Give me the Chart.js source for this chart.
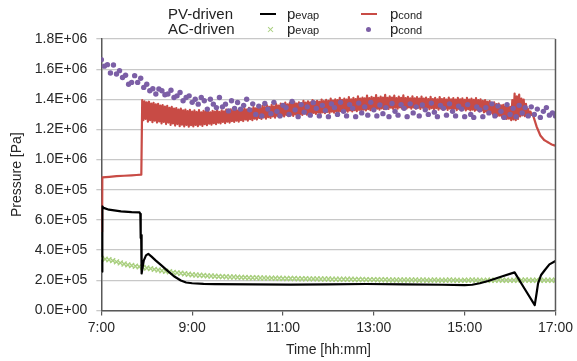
<!DOCTYPE html>
<html>
<head>
<meta charset="utf-8">
<script src="https://cdn.jsdelivr.net/npm/chart.js@4.4.1/dist/chart.umd.min.js"></script>
<style>
  html, body { margin: 0; padding: 0; background: #fff; }
  #wrap { position: relative; width: 577px; height: 361px; font-family: "Liberation Sans", Arial, sans-serif; color: #222; }
  canvas { position: absolute; left: 0; top: 0; }
  .lg { position: absolute; font-size: 15px; line-height: 15px; white-space: nowrap; }
  .sub { font-size: 11px; }
  .ln { position: absolute; height: 2px; }
  .xm { position: absolute; width: 7px; height: 1.2px; background: #a9cf7f; }
  .dot { position: absolute; width: 5px; height: 5px; border-radius: 50%; background: #7c5fa6; }
</style>
</head>
<body>
<div id="wrap">
  <canvas id="c" width="577" height="361"></canvas>
  <div class="lg" style="left:168px; top:6px;">PV-driven</div>
  <div class="lg" style="left:168px; top:21px;">AC-driven</div>
  <div class="ln" style="left:260px; top:13px; width:16px; background:#000;"></div>
  <div class="lg" style="left:287px; top:6px;">p<span class="sub">evap</span></div>
  <div class="ln" style="left:361px; top:13px; width:16px; background:#c84b45;"></div>
  <div class="lg" style="left:390px; top:6px;">p<span class="sub">cond</span></div>
  <div class="xm" style="left:267px; top:29px; transform:rotate(45deg);"></div>
  <div class="xm" style="left:267px; top:29px; transform:rotate(-45deg);"></div>
  <div class="lg" style="left:287px; top:21px;">p<span class="sub">evap</span></div>
  <div class="dot" style="left:366px; top:27px;"></div>
  <div class="lg" style="left:390px; top:21px;">p<span class="sub">cond</span></div>
</div>
<script>
// Time in minutes after 7:00; pressures in kPa
const KPA = 1000;
const xTickLabels = ['7:00', '9:00', '11:00', '13:00', '15:00', '17:00'];

// PV-driven p_evap (black line)
const pvEvapT = [1, 1.3, 3, 10, 26, 40, 50.5, 51.5, 52, 52.6, 53, 53.4, 56, 59, 62, 66, 72, 79, 88, 97, 105, 112, 120, 135, 150, 200, 250, 300, 350, 400, 450, 480, 490, 500, 511, 528, 546, 559, 572.6, 575, 577, 581, 586, 592, 600];
const pvEvapP = [257, 690, 680, 668, 657, 652, 650, 640, 480, 500, 420, 245, 330, 365, 375, 358, 330, 300, 260, 223, 198, 185, 180, 176, 174, 172, 171, 173, 175, 173, 170, 168, 170, 180, 195, 223, 252, 145, 35, 112, 179, 235, 268, 305, 328];

// PV-driven p_cond (red): start-up and shut-down segments
const pvCondHeadT = [1, 1.3, 20, 40, 52.8];
const pvCondHeadP = [520, 882, 890, 896, 900];
const pvCondTailT = [575, 580, 585, 590, 595, 600];
const pvCondTailP = [1220, 1160, 1130, 1115, 1100, 1092];
// PV-driven p_cond noisy signal: peaks and troughs, every 3 min from 54 to 570
// (each peak is followed by the trough half a step later)
const pvCondBandStart = 54, pvCondBandStep = 3;
const pvCondPeakP = [
  1395, 1386, 1380, 1384, 1372, 1376, 1366, 1370, 1358, 1362,   // 54-81
  1352, 1356, 1344, 1350, 1338, 1342, 1332, 1338, 1326, 1332,   // 84-111
  1322, 1330, 1318, 1326, 1316, 1328, 1314, 1324, 1318, 1326,   // 114-141
  1314, 1324, 1318, 1330, 1316, 1326, 1320, 1332, 1322, 1334,   // 144-171
  1324, 1336, 1326, 1338, 1330, 1342, 1332, 1344, 1336, 1348,   // 174-201
  1340, 1352, 1342, 1356, 1348, 1360, 1350, 1364, 1354, 1368,   // 204-231
  1358, 1372, 1362, 1378, 1366, 1376, 1368, 1382, 1372, 1380,   // 234-261
  1374, 1390, 1378, 1386, 1380, 1395, 1384, 1390, 1384, 1398,   // 264-291
  1388, 1396, 1390, 1404, 1392, 1400, 1394, 1410, 1396, 1404,   // 294-321
  1398, 1415, 1400, 1410, 1402, 1420, 1404, 1412, 1406, 1425,   // 324-351
  1408, 1416, 1410, 1428, 1410, 1418, 1412, 1430, 1410, 1420,   // 354-381
  1412, 1424, 1408, 1418, 1410, 1426, 1408, 1416, 1406, 1420,   // 384-411
  1406, 1414, 1404, 1418, 1404, 1412, 1402, 1416, 1402, 1410,   // 414-441
  1400, 1414, 1402, 1408, 1398, 1412, 1400, 1408, 1398, 1410,   // 444-471
  1400, 1406, 1396, 1410, 1398, 1404, 1396, 1408, 1394, 1400,   // 474-501
  1390, 1394, 1384, 1388, 1376, 1380, 1368, 1372, 1360, 1364,   // 504-531
  1354, 1358, 1350, 1395, 1438, 1420, 1432, 1405, 1398, 1370,   // 534-561
  1335, 1318, 1300                                              // 564-570
];
const pvCondTroughP = [
  1262, 1270, 1252, 1262, 1248, 1258, 1246, 1254, 1240, 1250,   // 54-81
  1236, 1246, 1230, 1240, 1226, 1236, 1222, 1232, 1220, 1230,   // 84-111
  1218, 1228, 1220, 1230, 1222, 1232, 1224, 1236, 1228, 1238,   // 114-141
  1232, 1242, 1236, 1246, 1240, 1250, 1242, 1252, 1246, 1256,   // 144-171
  1250, 1258, 1252, 1262, 1256, 1266, 1258, 1268, 1262, 1272,   // 174-201
  1266, 1276, 1270, 1280, 1272, 1282, 1276, 1286, 1278, 1290,   // 204-231
  1282, 1292, 1286, 1296, 1288, 1298, 1290, 1300, 1294, 1302,   // 234-261
  1296, 1306, 1298, 1308, 1302, 1310, 1304, 1312, 1306, 1314,   // 264-291
  1308, 1316, 1310, 1318, 1312, 1320, 1314, 1322, 1316, 1324,   // 294-321
  1318, 1326, 1320, 1328, 1322, 1330, 1324, 1332, 1326, 1334,   // 324-351
  1328, 1336, 1330, 1338, 1332, 1340, 1334, 1342, 1336, 1344,   // 354-381
  1336, 1344, 1338, 1346, 1338, 1346, 1340, 1346, 1338, 1346,   // 384-411
  1338, 1344, 1336, 1344, 1336, 1344, 1334, 1342, 1334, 1342,   // 414-441
  1332, 1340, 1332, 1340, 1330, 1338, 1330, 1338, 1328, 1336,   // 444-471
  1328, 1336, 1326, 1334, 1326, 1332, 1324, 1330, 1320, 1326,   // 474-501
  1314, 1318, 1306, 1310, 1298, 1300, 1290, 1292, 1280, 1284,   // 504-531
  1270, 1272, 1262, 1266, 1262, 1270, 1286, 1294, 1288, 1292,   // 534-561
  1290, 1296, 1300                                              // 564-570
];

// AC-driven p_evap (green crosses), every 5 min from 0
const acEvapStart = 0, acEvapStep = 5;
const acEvapP = [
  345, 340, 336, 330, 322, 315, 308, 302, 298, 293,
  290, 285, 281, 277, 272, 268, 263, 260, 256, 252,
  249, 246, 243, 240, 237, 235, 233, 231, 229, 228,
  226, 225, 224, 223, 222, 221, 220, 219, 218, 217,
  216, 216, 215, 215, 214, 214, 213, 213, 212, 212,
  211, 211, 210, 210, 210, 209, 209, 209, 208, 208,
  208, 207, 207, 207, 206, 206, 206, 205, 205, 205,
  204, 204, 204, 203, 203, 203, 202, 202, 202, 202,
  201, 201, 201, 201, 200, 201, 200, 200, 201, 200,
  200, 200, 201, 200, 200, 199, 200, 200, 201, 200,
  200, 199, 200, 200, 200, 201, 200, 200, 199, 200,
  200, 200, 201, 200, 200, 200, 199, 200, 200, 200,
  200
];

// AC-driven p_cond (purple dots), every 4 min from 0
const acCondStart = 0, acCondStep = 4;
const acCondP = [
  1663, 1620, 1630, 1575, 1628, 1568, 1590, 1545, 1560, 1500,
  1512, 1557, 1512, 1540, 1479, 1500, 1457, 1470, 1435, 1468,
  1457, 1430, 1435, 1460, 1412, 1423, 1445, 1390, 1412, 1423,
  1380, 1400, 1368, 1412, 1390, 1335, 1400, 1368, 1345, 1412,
  1350, 1368, 1323, 1390, 1340, 1379, 1335, 1360, 1400, 1330,
  1370,
  1300, 1355, 1290, 1372, 1335, 1305, 1380, 1320, 1290, 1360,
  1345, 1300, 1385, 1330, 1285, 1365, 1315, 1350, 1295, 1378,
  1340, 1290, 1360, 1325, 1285, 1370, 1345, 1300, 1380, 1320,
  1290, 1365, 1340, 1285, 1375, 1310, 1350, 1295, 1380, 1330,
  1290, 1362, 1305, 1345, 1285, 1372, 1320, 1295, 1365, 1340,
  1285, 1370, 1310, 1350, 1290, 1362, 1330, 1300, 1375, 1315,
  1285, 1360, 1340, 1295, 1370, 1320, 1290, 1355, 1335, 1285,
  1365, 1300, 1280, 1350, 1330, 1285, 1345, 1310, 1370, 1290,
  1355, 1320, 1280, 1365, 1300, 1340, 1285, 1360, 1310, 1345,
  1290, 1350, 1300, 1335, 1280, 1320, 1345, 1295, 1310, 1290
];

function pts(ts, ps) { return ts.map((t, i) => ({ x: t, y: ps[i] * KPA })); }
function grid(start, step, ps) { return ps.map((p, i) => ({ x: start + i * step, y: p * KPA })); }

const pvCondBand = [];
pvCondPeakP.forEach((p, i) => {
  const t = pvCondBandStart + i * pvCondBandStep;
  pvCondBand.push({ x: t, y: p * KPA });
  if (i < pvCondPeakP.length - 1) pvCondBand.push({ x: t + pvCondBandStep / 2, y: pvCondTroughP[i] * KPA });
});
const pvCondData = pts(pvCondHeadT, pvCondHeadP).concat(pvCondBand).concat(pts(pvCondTailT, pvCondTailP));

function sci(v) {
  if (Math.abs(v) < 1) return '0.0E+00';
  const e = Math.floor(Math.log10(v) + 1e-9);
  const m = v / Math.pow(10, e);
  return m.toFixed(1) + 'E+' + String(e).padStart(2, '0');
}

const frame = {
  id: 'frame',
  afterDatasetsDraw(chart) {
    const { ctx, chartArea: a } = chart;
    ctx.save();
    ctx.strokeStyle = '#595959';
    ctx.lineWidth = 1.5;
    ctx.beginPath();
    ctx.moveTo(a.right, a.top);
    ctx.lineTo(a.right, a.bottom);
    ctx.stroke();
    ctx.restore();
  }
};

const font = { family: '"Liberation Sans", Arial, sans-serif', size: 14 };
const RED = '#c84b45';

new Chart(document.getElementById('c'), {
  type: 'scatter',
  data: {
    datasets: [
      { label: 'PV p_evap', data: pts(pvEvapT, pvEvapP), showLine: true, borderColor: '#000', borderWidth: 2.2, borderJoinStyle: 'round', pointRadius: 0, tension: 0, order: 1 },
      { label: 'AC p_cond', data: grid(acCondStart, acCondStep, acCondP), showLine: false, pointStyle: 'circle', pointRadius: 2.7, backgroundColor: '#7c5fa6', borderWidth: 0, order: 2 },
      { label: 'PV p_cond', data: pvCondData, showLine: true, borderColor: RED, borderWidth: 2.2, borderJoinStyle: 'round', pointRadius: 0, tension: 0.0001, order: 3 },
      { label: 'AC p_evap', data: grid(acEvapStart, acEvapStep, acEvapP), showLine: false, pointStyle: 'crossRot', pointRadius: 3.5, borderColor: '#a9cf7f', borderWidth: 1.4, order: 5 }
    ]
  },
  options: {
    responsive: false,
    animation: false,
    devicePixelRatio: 1,
    layout: { padding: { top: 39, right: 2, bottom: 2, left: 9 } },
    plugins: { legend: { display: false }, tooltip: { enabled: false } },
    scales: {
      x: {
        type: 'linear', min: 0, max: 600,
        afterBuildTicks: (s) => { s.ticks = xTickLabels.map((_, i) => ({ value: i * 120 })); },
        ticks: { font, color: '#262626', padding: 4, maxRotation: 0, callback: (v, i) => xTickLabels[i] },
        grid: { drawOnChartArea: false, drawTicks: true, tickLength: 5, color: '#595959', lineWidth: 1.2 },
        border: { color: '#595959', width: 1.5 },
        title: { display: true, text: 'Time [hh:mm]', font, color: '#262626', padding: { top: 2, bottom: 0 } }
      },
      y: {
        min: 0, max: 1800000,
        ticks: { stepSize: 200000, font, color: '#262626', padding: 9, callback: (v) => sci(v) },
        grid: { color: '#c8c8c8', lineWidth: 1.3, tickLength: 5 },
        border: { color: '#595959', width: 1.5 },
        title: { display: true, text: 'Pressure [Pa]', font, color: '#262626', padding: { top: 0, bottom: 0 } }
      }
    }
  },
  plugins: [frame]
});
</script>
</body>
</html>
